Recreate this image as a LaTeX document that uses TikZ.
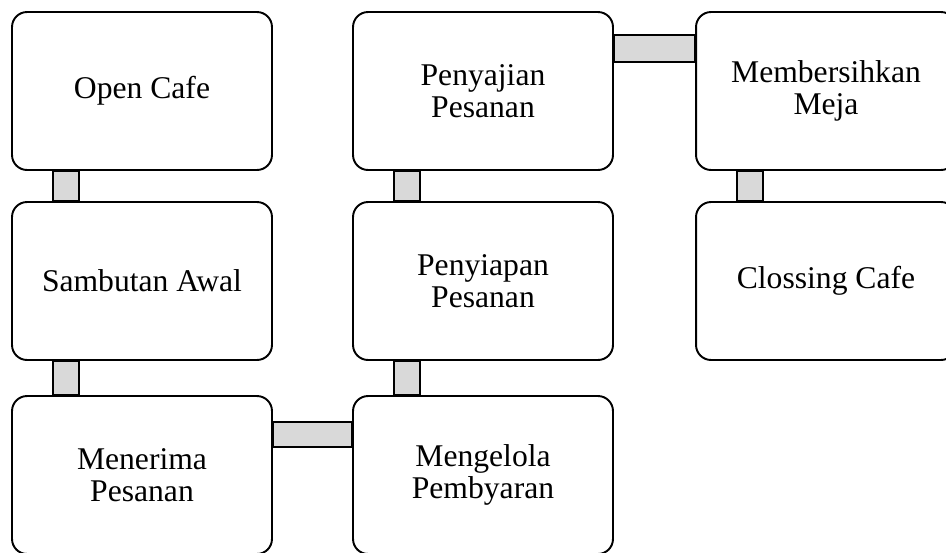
\documentclass[tikz,border=0pt]{standalone}
\usepackage{fontspec}
\setmainfont{Liberation Serif}
\usetikzlibrary{calc}
\tikzset{
    stepbox/.style={draw, line width=1.1pt, rounded corners=0.3cm,
        minimum width=5.2cm, minimum height=3.16cm, align=center,
        font=\fontsize{18}{18.2}\selectfont},
    link/.style={draw, line width=1.1pt, fill=gray!30}
}
\begin{document}
\begin{tikzpicture}[x=0.02cm, y=-0.02cm]
    \useasboundingbox (0,0) rectangle (946,552);
    % First column
    \node[stepbox] (open) at (142,91) {Open Cafe};
    \node[stepbox] (welcome) at (142,281) {Sambutan Awal};
    \node[stepbox] (order) at (142,475) {Menerima\\Pesanan};
    % Second column
    \node[stepbox] (serve) at (483,91) {Penyajian\\Pesanan};
    \node[stepbox] (prepare) at (483,281) {Penyiapan\\Pesanan};
    \node[stepbox] (pay) at (483,475) {Mengelola\\Pembyaran};
    % Third column
    \node[stepbox] (clean) at (826,91) {Membersihkan\\Meja};
    \node[stepbox] (close) at (826,281) {Clossing Cafe};
    % Connectors
    \draw[link] ($(open.south west)+(42,0)$) rectangle ($(welcome.north west)+(68,0)$);
    \draw[link] ($(welcome.south west)+(42,0)$) rectangle ($(order.north west)+(68,0)$);
    \draw[link] ($(order.north east)+(0,27)$) rectangle ($(pay.north west)+(0,52)$);
    \draw[link] ($(prepare.south west)+(42,0)$) rectangle ($(pay.north west)+(68,0)$);
    \draw[link] ($(serve.south west)+(42,0)$) rectangle ($(prepare.north west)+(68,0)$);
    \draw[link] ($(serve.north east)+(0,24)$) rectangle ($(clean.north west)+(0,51)$);
    \draw[link] ($(clean.south west)+(42,0)$) rectangle ($(close.north west)+(68,0)$);
\end{tikzpicture}
\end{document}
